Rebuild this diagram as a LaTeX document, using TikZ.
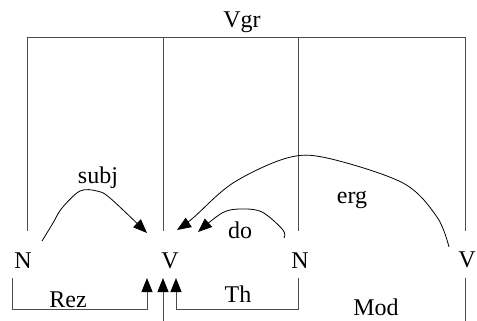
\documentclass[tikz,border=0pt]{standalone}
\usepackage{fontspec}
\setmainfont{Liberation Serif}
\usetikzlibrary{arrows.meta}
\begin{document}
\begin{tikzpicture}[x=1pt,y=-1pt,
  bar/.style={draw=black!70,line width=0.9pt},
  rel/.style={draw=black,line width=0.8pt},
  tip/.style={-{Triangle[length=14pt,width=11pt,color=black]}},
  lab/.style={font=\fontsize{24}{26}\selectfont,inner sep=0pt,anchor=base},
  word/.style={font=\fontsize{24}{26}\selectfont,inner sep=0pt,anchor=base}]
\useasboundingbox (0,0) rectangle (477,321);
% labels
\node[word] (vgr) at (242,28) {Vgr};
\node[word] (n1) at (23,268) {N};
\node[word] (v1) at (170,268) {V};
\node[word] (n2) at (300,268) {N};
\node[word] (v2) at (467,267) {V};
\node[lab] (subj) at (98,183) {subj};
\node[lab] (erg) at (352,203) {erg};
\node[lab] (do) at (240,238) {do};
\node[lab] (rez) at (68,307) {Rez};
\node[lab] (th) at (238,302) {Th};
\node[lab] (mod) at (376,315) {Mod};
% top bracket
\coordinate (b1) at (27,37);
\coordinate (b2) at (163,37);
\coordinate (b3) at (298,37);
\coordinate (b4) at (465,37);
\coordinate (e1) at (27,231);
\coordinate (e2) at (163,231);
\coordinate (e3) at (298,231);
\coordinate (e4) at (465,231);
\draw[bar] (e1) -- (b1) -- (b4) -- (e4);
\draw[bar] (b2) -- (e2);
\draw[bar] (b3) -- (e3);
% bottom connectors
\coordinate (r0) at (12,278);
\coordinate (r1) at (12,309);
\coordinate (r2) at (147,309);
\coordinate (r3) at (147,278);
\coordinate (m0) at (163,321);
\coordinate (m1) at (163,278);
\coordinate (t0) at (298,278);
\coordinate (t1) at (298,309);
\coordinate (t2) at (176,309);
\coordinate (t3) at (176,278);
\coordinate (d0) at (465,278);
\coordinate (d1) at (465,321);
\draw[bar,tip] (r0) -- (r1) -- (r2) -- (r3);
\draw[bar,tip] (m0) -- (m1);
\draw[bar,tip] (t0) -- (t1) -- (t2) -- (t3);
\draw[bar] (d0) -- (d1);
% arcs
\draw[rel,tip] plot[smooth,tension=0.55] coordinates {(42,241) (53,223) (62,208) (80,191) (97,191) (110,198) (147,233)};
\draw[rel,tip] plot[smooth,tension=0.55] coordinates {(449,247) (437,217) (403,183) (327,158) (287,158) (233,183) (193,218) (177,230)};
\draw[rel,tip] plot[smooth,tension=0.55] coordinates {(284,238) (283,230) (262,212) (240,209) (222,213) (198,232)};
\end{tikzpicture}
\end{document}
